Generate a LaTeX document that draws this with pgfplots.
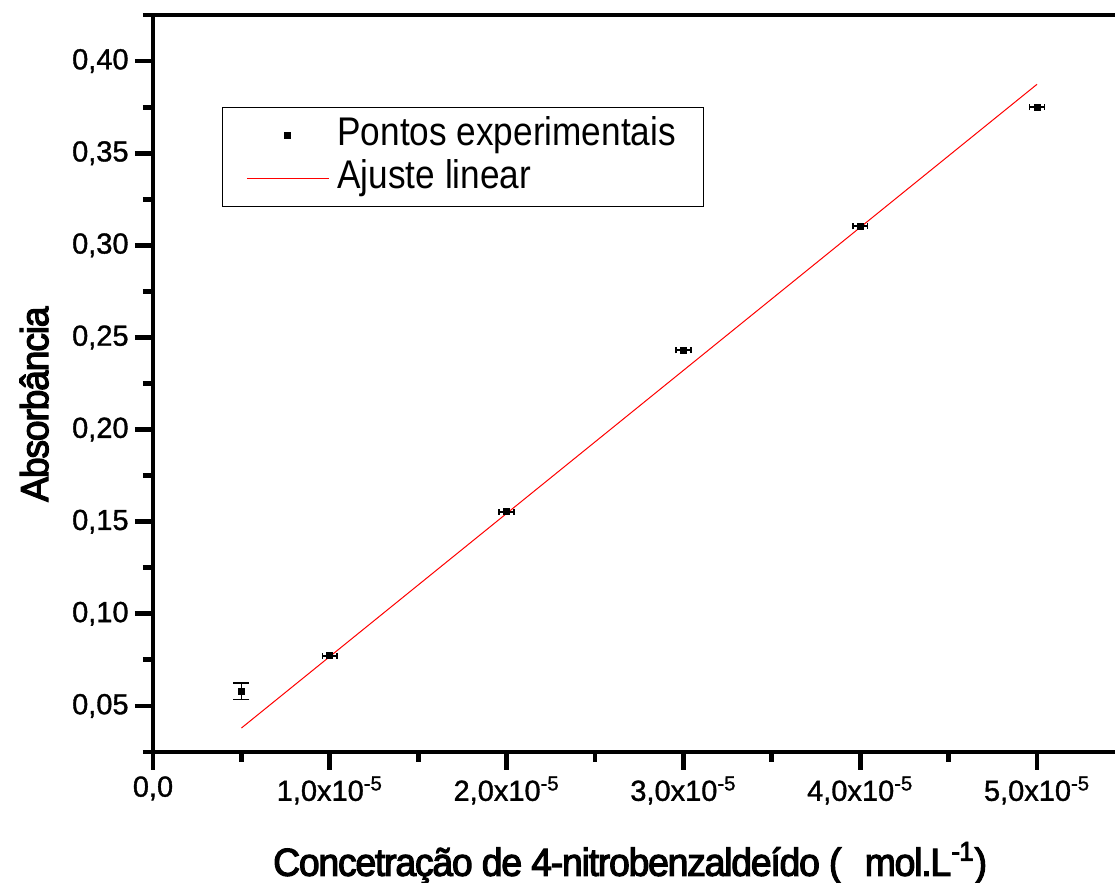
\documentclass[border=0pt]{standalone}
\usepackage{pgfplots}
\pgfplotsset{compat=1.18}
\usepackage{fontspec}
\setmainfont{Liberation Sans}
\newfontfamily\labfont[FakeStretch=0.955, LetterSpace=-3, FakeBold=3]{Liberation Sans}
\newfontfamily\legfont[FakeStretch=0.88]{Liberation Sans}
\newfontfamily\tickfont[FakeBold=1.2]{Liberation Sans}
\begin{document}
\begin{tikzpicture}
\begin{axis}[
  name=ax,
  scale only axis,
  width=481pt, height=368.5pt,
  xmin=0, xmax=5.441e-5,
  ymin=0.025, ymax=0.425,
  axis x line*=box, axis y line*=left,
  axis line style={line width=2.4pt},
  tick align=outside,
  xtick pos=left, ytick pos=left,
  major tick length=9pt, minor tick length=5pt,
  every tick/.style={black, line width=2.4pt},
  scaled x ticks=false, scaled y ticks=false,
  xtick={0,1e-5,2e-5,3e-5,4e-5,5e-5},
  xticklabels={{0,0},{1,0x10\textsuperscript{-5}},{2,0x10\textsuperscript{-5}},{3,0x10\textsuperscript{-5}},{4,0x10\textsuperscript{-5}},{5,0x10\textsuperscript{-5}}},
  minor xtick={0.5e-5,1.5e-5,2.5e-5,3.5e-5,4.5e-5},
  ytick={0.05,0.10,0.15,0.20,0.25,0.30,0.35,0.40},
  yticklabels={{0,05},{0,10},{0,15},{0,20},{0,25},{0,30},{0,35},{0,40}},
  minor ytick={0.025,0.075,0.125,0.175,0.225,0.275,0.325,0.375,0.425},
  yticklabel style={font=\tickfont\fontsize{14.5}{17}\selectfont, inner sep=3pt},
  xticklabel style={font=\tickfont\fontsize{14.5}{17}\selectfont, inner sep=3pt},
  xlabel={Concetração de 4-nitrobenzaldeído (\hspace{0.6em}mol.L\textsuperscript{-1})},
  ylabel={Absorbância},
  xlabel style={at={(axis description cs:0.496,-0.168)}, anchor=base, font=\labfont\fontsize{19.5}{23}\selectfont},
  ylabel style={at={(axis description cs:-0.109,0.472)}, anchor=base, font=\labfont\fontsize{19.5}{23}\selectfont},
  legend image code/.code={\draw[mark repeat=2,mark phase=2,#1] plot coordinates {(0pt,0pt) (20.5pt,0pt) (41pt,0pt)};},
  legend style={at={(0.0717,0.875)}, anchor=north west, draw=black, line width=0.5pt,
    font=\legfont\fontsize{20}{24}\selectfont, inner xsep=12pt, inner ysep=3.5pt,
    nodes={inner sep=1pt, text height=14.5pt, text depth=4.75pt},
    /tikz/every odd column/.append style={column sep=3pt}},
  legend cell align=left,
]
\addplot[only marks, mark=square*, mark size=1.5pt, black,
  error bars/.cd, y dir=both, y explicit,
  error bar style={line width=0.7pt, black},
  error mark options={rotate=90, mark size=4pt, line width=0.7pt, black}]
  coordinates {(0.5e-5,0.058) +- (0,0.0045)};
\addlegendentry{\makebox[170pt][l]{Pontos experimentais}}
\addplot[only marks, mark=square*, mark size=1.5pt, black, forget plot,
  error bars/.cd, x dir=both, x explicit,
  error bar style={line width=1pt, black},
  error mark options={rotate=90, mark size=1.5pt, line width=0.8pt, black}]
  coordinates {
    (1e-5,0.0773) +- (0.042e-5,0)
    (2e-5,0.1554) +- (0.042e-5,0)
    (3e-5,0.2430) +- (0.042e-5,0)
    (4e-5,0.3103) +- (0.042e-5,0)
    (5e-5,0.3750) +- (0.042e-5,0)
  };
\addplot[red, line width=0.5pt] coordinates {(0.5e-5,0.0380) (5e-5,0.3874)};
\addlegendentry{Ajuste linear}
\end{axis}
\pgfresetboundingbox
\path ([shift={(-76.5pt,-65.5pt)}]ax.south west) rectangle ([shift={(0pt,7.5pt)}]ax.north east);
\end{tikzpicture}
\end{document}
